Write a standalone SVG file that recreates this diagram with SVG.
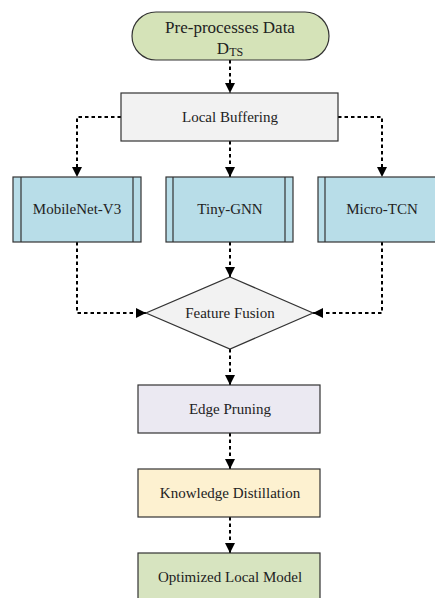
<svg xmlns="http://www.w3.org/2000/svg" width="435" height="598" viewBox="0 0 435 598">
<defs>
<marker id="ah" markerWidth="10" markerHeight="11" refX="10" refY="5.5" orient="auto" markerUnits="userSpaceOnUse">
<path d="M0,0.5 L10,5.5 L0,10.5 Z" fill="#000"/>
</marker>
<style>
.n{stroke:#333;stroke-width:1.2}
.t{font-family:"Liberation Serif","Times New Roman",serif;font-size:15px;fill:#222;text-anchor:middle}
.c{fill:none;stroke:#000;stroke-width:2;stroke-dasharray:3.5,3;marker-end:url(#ah)}
</style>
</defs>
<rect width="435" height="598" fill="#fff"/>
<g id="connectors">
<path class="c" d="M230,60 V93"/>
<path class="c" d="M121,117 H77 V177"/>
<path class="c" d="M230,141 V177"/>
<path class="c" d="M338,117 H382 V177"/>
<path class="c" d="M77,242 V313 H146"/>
<path class="c" d="M230,242 V277"/>
<path class="c" d="M382,242 V313 H313"/>
<path class="c" d="M230,349 V385"/>
<path class="c" d="M230,433 V469"/>
<path class="c" d="M230,517 V553"/>
</g>
<g id="preprocess">
<rect class="n" x="132" y="12" width="197" height="48" rx="24" fill="#d5e3b8"/>
<text class="t" x="230" y="33" style="font-size:17px">Pre-processes Data</text>
<text class="t" x="230" y="54" style="font-size:17px">D<tspan font-size="12" dy="2">TS</tspan></text>
</g>
<g id="buffering">
<rect class="n" x="121" y="93" width="217" height="48" fill="#f2f2f2"/>
<text class="t" x="230" y="122">Local Buffering</text>
</g>
<g id="mobilenet">
<rect class="n" x="13" y="177" width="128" height="65" fill="#b8dde8"/>
<path class="n" d="M21,177 V242 M133,177 V242" fill="none"/>
<text class="t" x="77" y="214">MobileNet-V3</text>
</g>
<g id="tinygnn">
<rect class="n" x="166" y="177" width="127" height="65" fill="#b8dde8"/>
<path class="n" d="M173,177 V242 M285,177 V242" fill="none"/>
<text class="t" x="230" y="214">Tiny-GNN</text>
</g>
<g id="microtcn">
<rect class="n" x="318" y="177" width="128" height="65" fill="#b8dde8"/>
<path class="n" d="M325,177 V242" fill="none"/>
<text class="t" x="382" y="214">Micro-TCN</text>
</g>
<g id="fusion">
<polygon class="n" points="230,277 313,313 230,349 146,313" fill="#f2f2f2"/>
<text class="t" x="230" y="318">Feature Fusion</text>
</g>
<g id="pruning">
<rect class="n" x="138" y="385" width="182" height="48" fill="#ebe9f2"/>
<text class="t" x="230" y="414">Edge Pruning</text>
</g>
<g id="distillation">
<rect class="n" x="138" y="469" width="182" height="48" fill="#fdf1d0"/>
<text class="t" x="230" y="498">Knowledge Distillation</text>
</g>
<g id="optimized">
<rect class="n" x="138" y="553" width="182" height="50" fill="#d7e4c0"/>
<text class="t" x="230" y="582">Optimized Local Model</text>
</g>
</svg>
